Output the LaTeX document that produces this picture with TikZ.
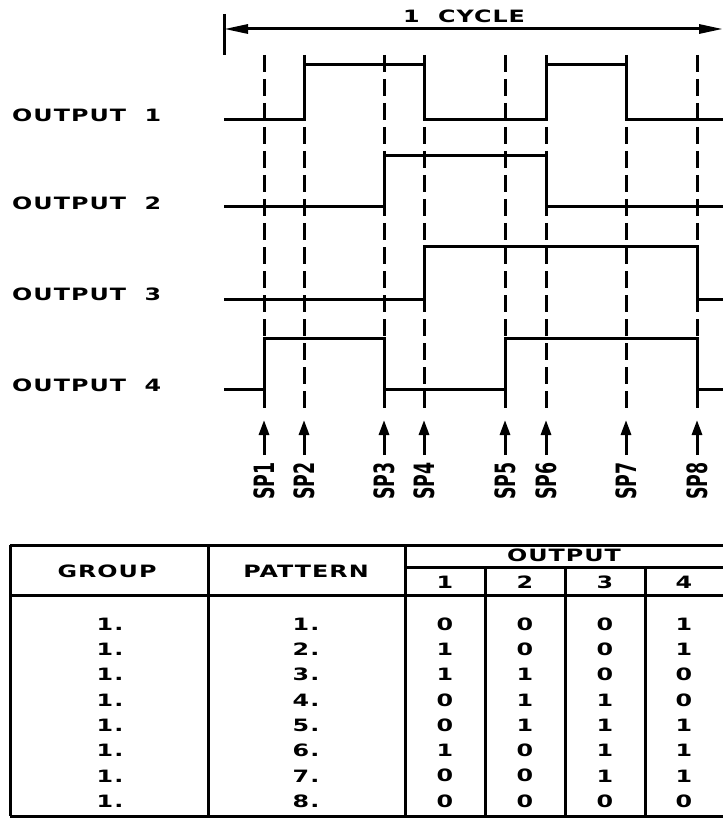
\documentclass[tikz,border=0pt]{standalone}
\usepackage{fontspec}
\usetikzlibrary{arrows.meta}
\newfontfamily\cadfont{DejaVu Sans}[UprightFont={* Bold},FakeStretch=1.4,LetterSpace=6]
\newfontfamily\spfont{DejaVu Sans}[UprightFont={* Bold}]
\tikzset{
  wave/.style={line width=3pt, line join=miter},
  guide/.style={line width=3pt, dash pattern=on 17pt off 7pt},
  grid/.style={line width=3pt},
  lbl/.style={inner sep=0pt, font=\cadfont\fontsize{17}{20}\selectfont},
  cell/.style={inner sep=0pt, font=\cadfont\fontsize{17}{20}\selectfont},
  splbl/.style={inner sep=0pt, rotate=90, font=\spfont\fontsize{28}{30}\selectfont},
  sparrow/.style={line width=3pt, -{Triangle[length=15pt,width=10pt]}},
  cycarrow/.style={line width=3pt, {Triangle[length=24pt,width=9pt]}-{Triangle[length=24pt,width=9pt]}}
}
\begin{document}
\begin{tikzpicture}[x=1pt,y=-1pt]
\useasboundingbox (0,0) rectangle (723,818);
% cycle dimension
\coordinate (cycL) at (224,29);
\coordinate (cycR) at (723,29);
\coordinate (tickT) at (224,14);
\coordinate (tickB) at (224,55);
\draw[line width=3pt] (tickT) -- (tickB);
\draw[cycarrow] (cycL) -- (cycR);
\node[lbl] (cycle) at (464,16) {1\ \ CYCLE};
% output labels
\node[lbl, anchor=west] (o1) at (12,115) {OUTPUT\ \ 1};
\node[lbl, anchor=west] (o2) at (12,203) {OUTPUT\ \ 2};
\node[lbl, anchor=west] (o3) at (12,294) {OUTPUT\ \ 3};
\node[lbl, anchor=west] (o4) at (12,385) {OUTPUT\ \ 4};
% dashed guides, arrows and SP labels
\foreach \i/\x in {1/264,2/304,3/384,4/424,5/505,6/546,7/626,8/697}{
  \coordinate (gT\i) at (\x,55);
  \coordinate (gB\i) at (\x,410);
  \draw[guide] (gT\i) -- (gB\i);
  \coordinate (aT\i) at (\x,420);
  \coordinate (aB\i) at (\x,455);
  \draw[sparrow] (aB\i) -- (aT\i);
  \node[splbl] (sp\i) at (\x,481) {\scalebox{0.62}[1]{SP\i}};
}
% waveforms
\draw[wave] (224,120) -| (304,65) -| (424,120) -| (546,65) -| (626,120) -- (723,120);
\draw[wave] (224,207) -| (384,156) -| (546,207) -- (723,207);
\draw[wave] (224,299) -| (424,246) -| (697,299) -- (723,299);
\draw[wave] (224,389) -| (264,338) -| (384,389) -| (505,338) -| (697,389) -- (723,389);
% table grid
\draw[grid] (10,545) -- (723,545);
\draw[grid] (10,595) -- (723,595);
\draw[grid] (405,567) -- (723,567);
\draw[grid] (10,545) -- (10,816);
\draw[grid] (10,816) -- (723,816);
\draw[grid] (208,545) -- (208,816);
\draw[grid] (405,545) -- (405,816);
\draw[grid] (485,567) -- (485,816);
\draw[grid] (565,567) -- (565,816);
\draw[grid] (645,567) -- (645,816);
% header
\node[cell] (hgroup) at (107,571) {GROUP};
\node[cell] (hpattern) at (306,571) {PATTERN};
\node[cell] (houtput) at (564,555) {OUTPUT};
\node[cell] (h1) at (445,582) {1};
\node[cell] (h2) at (525,582) {2};
\node[cell] (h3) at (605,582) {3};
\node[cell] (h4) at (684,582) {4};
% rows
\foreach \n/\a/\b/\c/\d [count=\k from 0] in {1/0/0/0/1,2/1/0/0/1,3/1/1/0/0,4/0/1/1/0,5/0/1/1/1,6/1/0/1/1,7/0/0/1/1,8/0/0/0/0}{
  \pgfmathsetmacro{\yy}{624+25.3*\k}
  \node[cell] (g\n) at (110,\yy) {1.};
  \node[cell] (p\n) at (306,\yy) {\n.};
  \node[cell] (c1\n) at (445,\yy) {\a};
  \node[cell] (c2\n) at (525,\yy) {\b};
  \node[cell] (c3\n) at (605,\yy) {\c};
  \node[cell] (c4\n) at (684,\yy) {\d};
}
\end{tikzpicture}
\end{document}
